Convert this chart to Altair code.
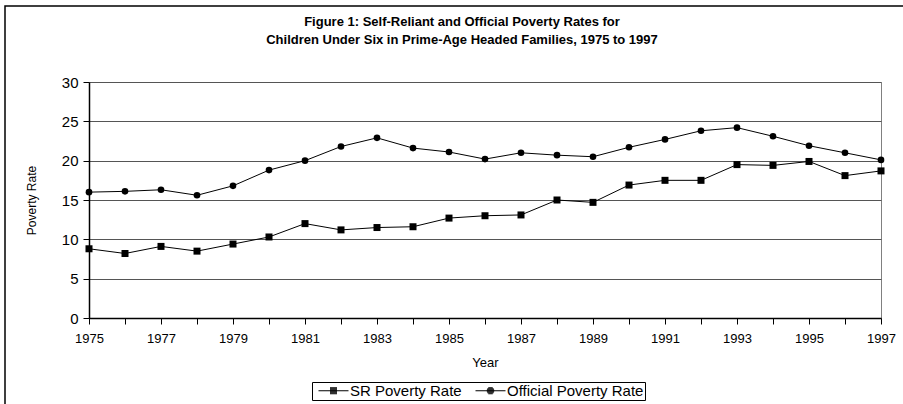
import math
import altair as alt
import pandas as pd

years = list(range(1975, 1998))
sr_rate = [8.8, 8.2, 9.1, 8.5, 9.4, 10.3, 12.0, 11.2, 11.5, 11.6, 12.7, 13.0,
           13.1, 15.0, 14.7, 16.9, 17.5, 17.5, 19.5, 19.4, 19.9, 18.1, 18.7]
official_rate = [16.0, 16.1, 16.3, 15.6, 16.8, 18.8, 20.0, 21.8, 22.9, 21.6, 21.1, 20.2,
                 21.0, 20.7, 20.5, 21.7, 22.7, 23.8, 24.2, 23.1, 21.9, 21.0, 20.1]
series_names = ["SR Poverty Rate", "Official Poverty Rate"]
y_ticks = [0, 5, 10, 15, 20, 25, 30]
title_lines = ["Figure 1: Self-Reliant and Official Poverty Rates for",
               "Children Under Six in Prime-Age Headed Families, 1975 to 1997"]

rows = []
for name, vals in zip(series_names, [sr_rate, official_rate]):
    for yr, v in zip(years, vals):
        rows.append({"year": yr, "rate": v, "series": name})
df = pd.DataFrame(rows)

FONT = "Liberation Sans"

# legend glyphs: a line with a (hatch-filled) marker, in symbol unit space
def hatch_square(h=0.7):
    parts = ["M-3,0L3,0"]
    y = -0.6
    while y <= 0.61:
        parts.append(f"M{-h},{y:.2f}L{h},{y:.2f}")
        y += 0.2
    return "".join(parts)

def hatch_circle(r=0.75):
    parts = ["M-3,0L3,0"]
    y = -0.6
    while y <= 0.61:
        w = math.sqrt(max(r * r - y * y, 0.0))
        parts.append(f"M{-w:.2f},{y:.2f}L{w:.2f},{y:.2f}")
        y += 0.2
    return "".join(parts)

SQ = hatch_square()
CI = hatch_circle()

x_enc = alt.X("year:Q",
              scale=alt.Scale(domain=[1975, 1997], nice=False, zero=False),
              axis=alt.Axis(values=years, format="d",
                            labelExpr="datum.value % 2 == 1 ? datum.label : ''",
                            labelOverlap=False, labelFlush=False, grid=False, tickSize=6,
                            labelPadding=8, labelFontSize=13,
                            title="Year", titleFontSize=13, titleFontWeight="normal",
                            titleBaseline="middle", titleY=44))
y_enc = alt.Y("rate:Q",
              scale=alt.Scale(domain=[0, 30], nice=False),
              axis=alt.Axis(values=y_ticks, tickSize=6, labelPadding=5,
                            labelFontSize=15, grid=True,
                            title="Poverty Rate", titleFontSize=12,
                            titleFontWeight="normal", titleX=-58, titleY=118,
                            titleAngle=270, titleAlign="center",
                            titleBaseline="middle"))

frame = alt.Chart(alt.Data(values=[{"k": 1}])).mark_rect(
    fillOpacity=0, stroke="black", strokeWidth=1.5
).encode(x=alt.value(-84), x2=alt.value(850), y=alt.value(-76), y2=alt.value(340))

lines = alt.Chart(df).mark_line(color="black", strokeWidth=1).encode(
    x=x_enc, y=y_enc, detail="series:N")

sr_pts = alt.Chart(df).transform_filter(
    alt.datum.series == series_names[0]
).mark_point(shape="square", filled=True, opacity=1, size=49, color="black").encode(
    x=x_enc, y=y_enc)

of_pts = alt.Chart(df).transform_filter(
    alt.datum.series == series_names[1]
).mark_point(shape="circle", filled=True, opacity=1, size=44, color="black").encode(
    x=x_enc, y=y_enc)

legend_layer = alt.Chart(df).transform_filter("false").mark_point(
    filled=False, opacity=1, size=100, color="black", strokeWidth=1
).encode(
    x=x_enc, y=y_enc,
    shape=alt.Shape("series:N",
                    scale=alt.Scale(domain=series_names, range=[SQ, CI]),
                    legend=alt.Legend(orient="none", legendX=223, legendY=300,
                                      direction="horizontal", title=None,
                                      strokeColor="black", fillColor="white",
                                      padding=1, symbolSize=100,
                                      symbolStrokeWidth=1,
                                      symbolOffset=13, labelOffset=9,
                                      labelFontSize=15, labelFont=FONT,
                                      labelColor="black", columnPadding=8)))

chart = alt.layer(frame, lines, sr_pts, of_pts, legend_layer).properties(
    width=792, height=236,
    autosize=alt.AutoSizeParams(type="none"),
    padding={"left": 89, "top": 82, "right": 22, "bottom": 86},
    title=alt.TitleParams(title_lines, fontSize=13, fontWeight="bold", font=FONT,
                          anchor="middle", frame="group", dx=-23, offset=-42,
                          lineHeight=18, color="black"),
).configure(
    font=FONT,
    background="white",
).configure_view(
    stroke="#808080", strokeWidth=1
).configure_axis(
    labelFont=FONT, titleFont=FONT, labelColor="black", titleColor="black",
    domainColor="black", tickColor="black", gridColor="#555", gridWidth=1,
    domainWidth=1.5, tickWidth=1
)

chart.save("out.html", embed_options={"renderer": "svg", "actions": False})
